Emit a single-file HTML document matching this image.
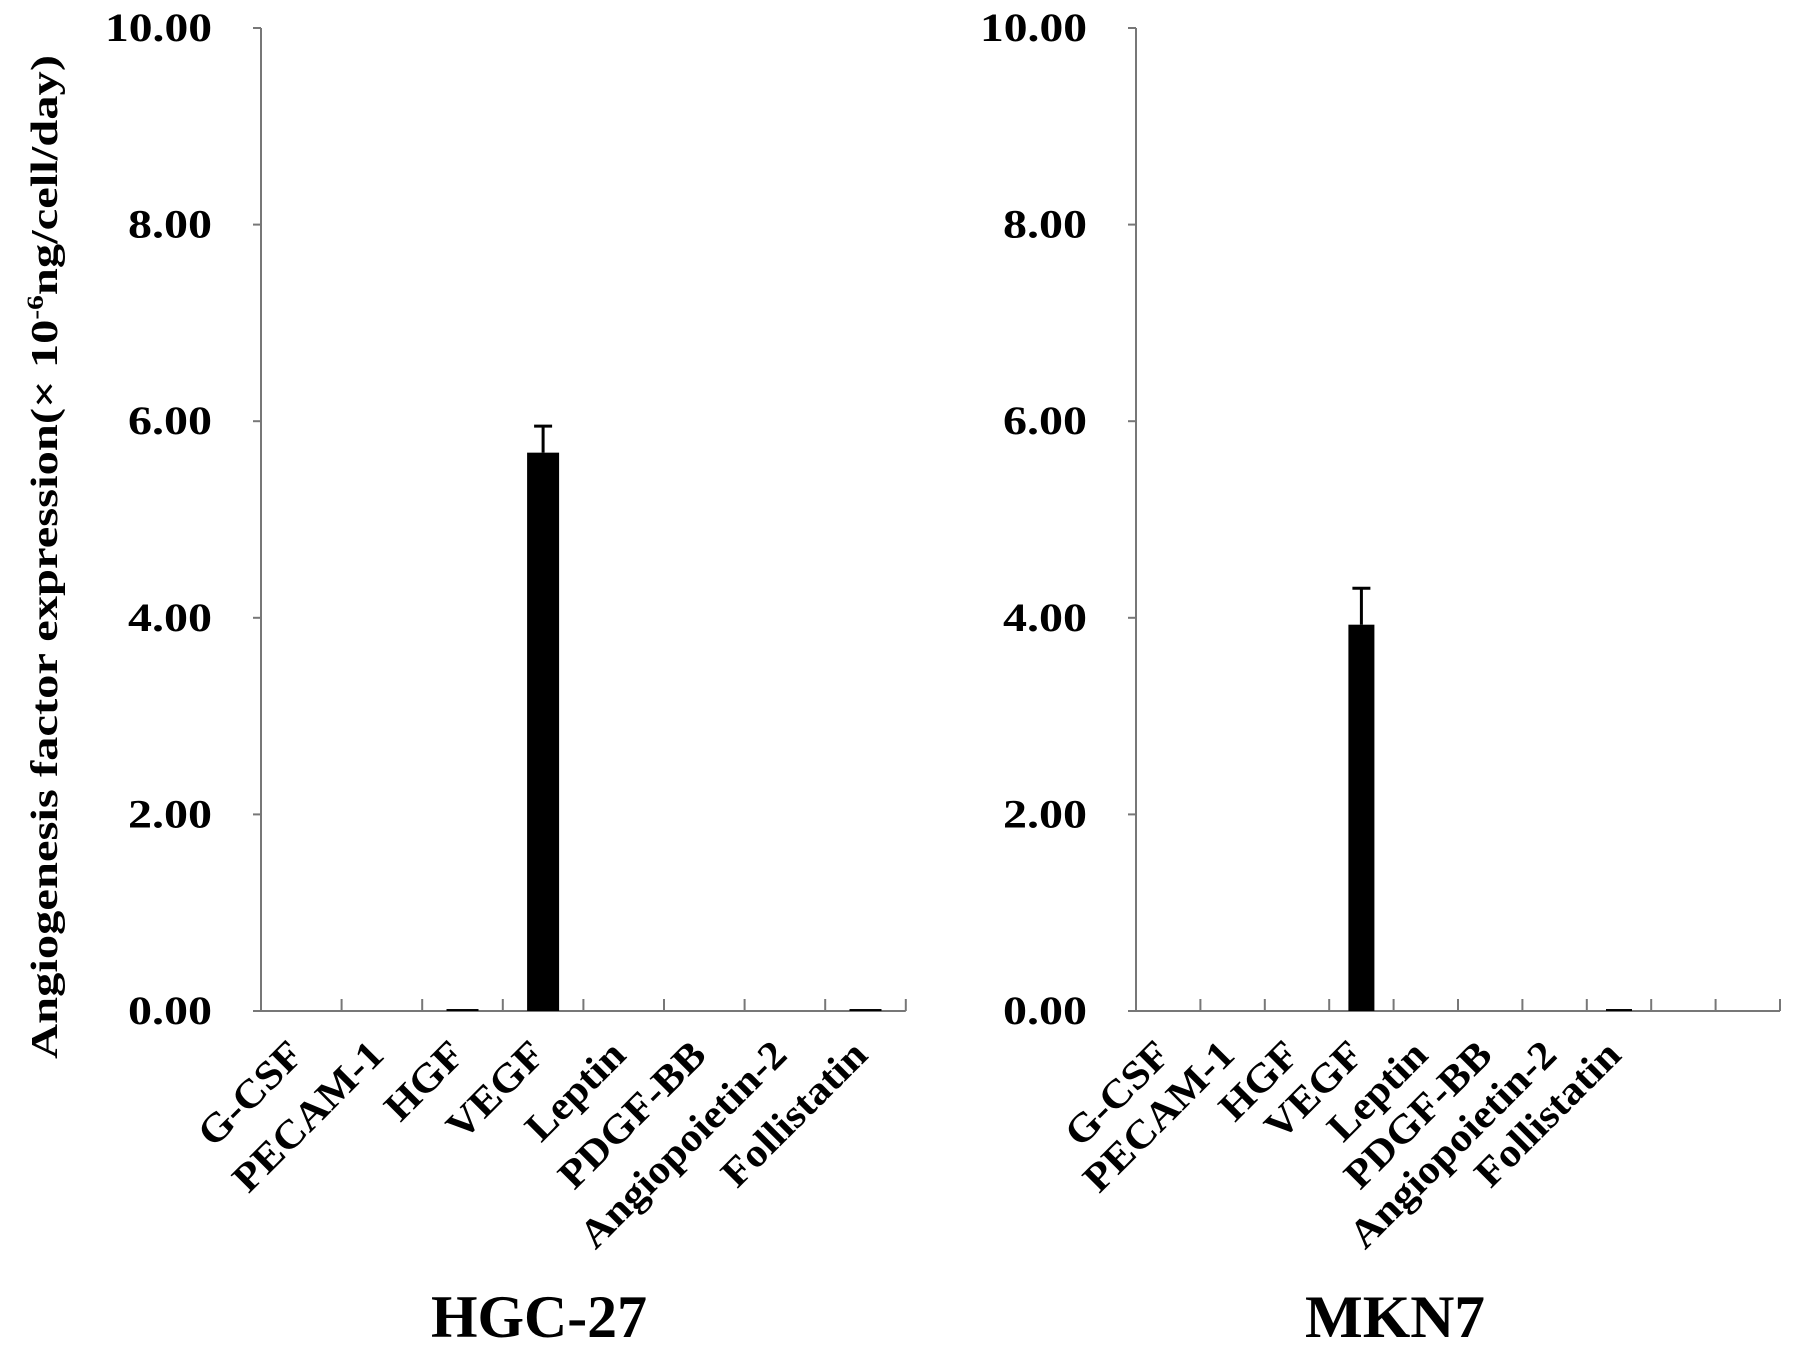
<!DOCTYPE html>
<html><head><meta charset="utf-8"><style>
html,body{margin:0;padding:0;background:#fff;}
svg{display:block;}
text{font-family:"Liberation Serif","Times New Roman",serif;font-weight:bold;fill:#000;}
</style></head><body>
<svg id="chart" width="1795" height="1351" viewBox="0 0 1795 1351" xmlns="http://www.w3.org/2000/svg">
<text transform="translate(57,557) rotate(-90)" text-anchor="middle" font-size="38" textLength="1004" lengthAdjust="spacingAndGlyphs">Angiogenesis factor expression(× 10<tspan font-size="23" dy="-14">-6</tspan><tspan dy="14">ng/cell/day)</tspan></text>
<g id="p1"></g>
<g id="p2"></g>
</svg>
<script>
const categories = ["G-CSF","PECAM-1","HGF","VEGF","Leptin","PDGF-BB","Angiopoietin-2","Follistatin"];
const hgcValues = [0, 0, 0.02, 5.68, 0, 0, 0, 0.02];
const hgcErrors = [0, 0, 0, 0.27, 0, 0, 0, 0];
const mknValues = [0, 0, 0, 3.93, 0, 0, 0, 0.02];
const mknErrors = [0, 0, 0, 0.37, 0, 0, 0, 0];
const yTicks = [0, 2, 4, 6, 8, 10];
const yTickLabels = ["0.00","2.00","4.00","6.00","8.00","10.00"];

const NS = "http://www.w3.org/2000/svg";
function mk(parent, tag, attrs){const e=document.createElementNS(NS,tag);for(const k in attrs)e.setAttribute(k,attrs[k]);parent.appendChild(e);return e;}

function drawPanel(g, cfg, values, errors, title){
  const y = v => cfg.y0 - (v/10)*(cfg.y0-cfg.y10);
  const xc = i => cfg.x0 + cfg.step*(i+0.5);
  const ax = mk(g,'line',{x1:cfg.x0,y1:cfg.y10,x2:cfg.x0,y2:cfg.y0,stroke:'#777','stroke-width':2});
  
  
  const bx = mk(g,'line',{x1:cfg.x0,y1:cfg.y0,x2:cfg.x0+cfg.step*cfg.nSlots,y2:cfg.y0,stroke:'#777','stroke-width':2});
  
  
  yTicks.forEach((t,i)=>{
    const tk = mk(g,'line',{x1:cfg.x0-8,y1:y(t),x2:cfg.x0,y2:y(t),stroke:'#777','stroke-width':2});
    
    
    const lb = mk(g,'text',{x:cfg.x0-49,y:y(t)+13,'text-anchor':'end','font-size':40,textLength:yTickLabels[i].length>4?107:84,lengthAdjust:'spacingAndGlyphs'});
    lb.textContent = yTickLabels[i];
    
    
  });
  for(let i=1;i<=cfg.nSlots;i++){
    const xt = cfg.x0+cfg.step*i;
    const tk = mk(g,'line',{x1:xt,y1:cfg.y0-12,x2:xt,y2:cfg.y0,stroke:'#777','stroke-width':2});
    
    
  }
  categories.forEach((c,i)=>{
    const v = values[i];
    if(v>0){
      const r = mk(g,'rect',{x:xc(i)-cfg.bw/2,y:y(v),width:cfg.bw,height:cfg.y0-y(v),fill:'#000'});
      
      
    }
    if(errors[i]>0){
      const top = y(v+errors[i]);
      const e1 = mk(g,'line',{x1:xc(i),y1:y(v),x2:xc(i),y2:top,stroke:'#000','stroke-width':3});
      
      
      const e2 = mk(g,'line',{x1:xc(i)-9,y1:top,x2:xc(i)+9,y2:top,stroke:'#000','stroke-width':3});
      
      
    }
    const t = mk(g,'text',{transform:`translate(${xc(i)+4},${cfg.y0+46}) rotate(-45) scale(1.08,1)`,'text-anchor':'end','font-size':40});
    t.textContent = c;
    
    
  });
  const tt = mk(g,'text',{x:cfg.titleX,y:1337,'text-anchor':'middle','font-size':60,textLength:cfg.titleLen,lengthAdjust:'spacingAndGlyphs'});
  tt.textContent = title;
  
  
}
drawPanel(document.getElementById('p1'),{x0:261,y0:1011,y10:28,step:80.6,nSlots:8,bw:32,titleX:539,titleLen:216},hgcValues,hgcErrors,"HGC-27");
drawPanel(document.getElementById('p2'),{x0:1136,y0:1011,y10:28,step:64.4,nSlots:10,bw:26,titleX:1395,titleLen:180},mknValues,mknErrors,"MKN7");
</script>
</body></html>
